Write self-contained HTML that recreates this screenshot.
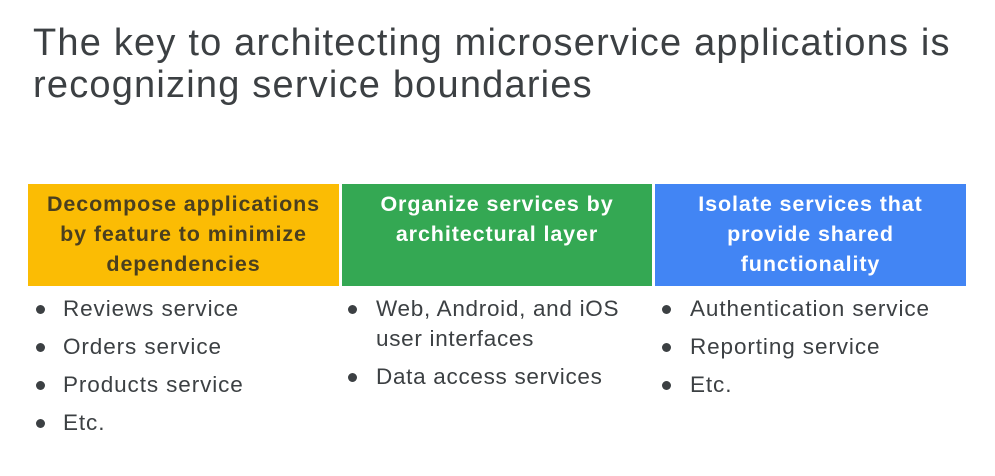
<!DOCTYPE html>
<html><head><style>
body{margin:0;width:995px;height:476px;background:#fff;font-family:"Liberation Sans",sans-serif;color:#3c4043;position:relative;overflow:hidden}
.t{position:absolute;left:33px;top:22px;font-size:38px;line-height:42px;color:#3c4043;letter-spacing:1.2px}
.b{position:absolute;top:184px;height:102px;display:flex;align-items:flex-start;justify-content:center;text-align:center;font-weight:bold;font-size:21.5px;line-height:30px;padding-top:5px;box-sizing:border-box;letter-spacing:0.9px;white-space:nowrap}
.l{position:absolute;font-size:22.5px;line-height:38px;letter-spacing:0.9px}
.d{position:absolute;width:9px;height:9px;border-radius:50%;background:#3c4043}
</style></head><body>
<div class="t">The key to architecting microservice applications is<br>recognizing service boundaries</div>
<div class="b" style="left:28px;width:311px;background:#fbbc04;color:#4a3f1f">Decompose applications<br>by feature to minimize<br>dependencies</div>
<div class="b" style="left:342px;width:310px;background:#34a853;color:#fff">Organize services by<br>architectural layer</div>
<div class="b" style="left:655px;width:311px;background:#4285f4;color:#fff">Isolate services that<br>provide shared<br>functionality</div>
<div class="l" style="left:63px;top:290px">Reviews service<br>Orders service<br>Products service<br>Etc.</div>
<div class="d" style="left:36px;top:305px"></div><div class="d" style="left:36px;top:343px"></div><div class="d" style="left:36px;top:381px"></div><div class="d" style="left:36px;top:419px"></div>
<div class="l" style="left:376px;top:294px;line-height:30px;letter-spacing:0.7px">Web, Android, and iOS<br>user interfaces</div>
<div class="l" style="left:376px;top:358px;letter-spacing:0.7px">Data access services</div>
<div class="d" style="left:348px;top:305px"></div><div class="d" style="left:348px;top:373px"></div>
<div class="l" style="left:690px;top:290px">Authentication service<br>Reporting service<br>Etc.</div>
<div class="d" style="left:662px;top:305px"></div><div class="d" style="left:662px;top:343px"></div><div class="d" style="left:662px;top:381px"></div>
</body></html>
